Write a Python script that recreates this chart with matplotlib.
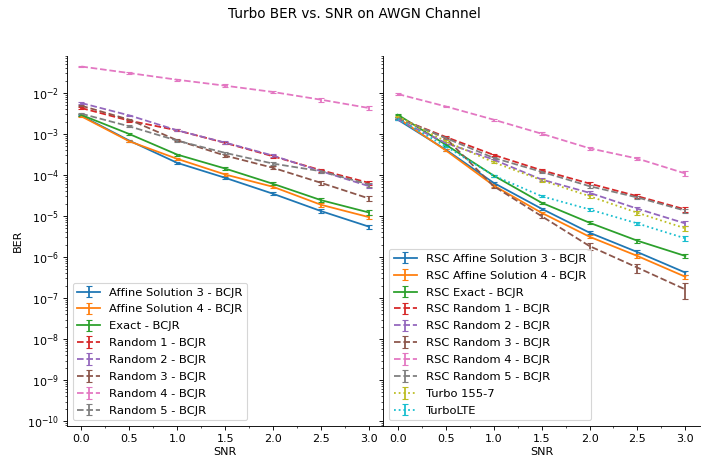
import numpy as np
import matplotlib
matplotlib.use("Agg")
import matplotlib.pyplot as plt
from matplotlib.ticker import AutoMinorLocator

# SNR points
snr = [0.0, 0.5, 1.0, 1.5, 2.0, 2.5, 3.0]

# Left panel: BCJR decoders
ber_affine3 = [2.8e-3, 6.9e-4, 1.98e-4, 8.55e-5, 3.49e-5, 1.32e-5, 5.5e-6]
ber_affine4 = [2.7e-3, 6.65e-4, 2.48e-4, 1.03e-4, 5.16e-5, 1.88e-5, 9.4e-6]
ber_exact = [2.92e-3, 1.0e-3, 3.15e-4, 1.44e-4, 6.1e-5, 2.44e-5, 1.22e-5]
ber_random1 = [4.3e-3, 2.12e-3, 1.23e-3, 6.07e-4, 2.86e-4, 1.31e-4, 6.45e-5]
ber_random2 = [5.7e-3, 2.85e-3, 1.23e-3, 6.18e-4, 2.98e-4, 1.24e-4, 5.35e-5]
ber_random3 = [4.9e-3, 2.24e-3, 7.03e-4, 2.98e-4, 1.5e-4, 6.45e-5, 2.68e-5]
ber_random4 = [4.43e-2, 3.07e-2, 2.11e-2, 1.51e-2, 1.06e-2, 6.87e-3, 4.31e-3]
ber_random5 = [3.13e-3, 1.54e-3, 6.9e-4, 3.47e-4, 1.9e-4, 1.24e-4, 5.87e-5]

# Right panel: RSC + turbo references
rsc_affine3 = [2.24e-3, 4.17e-4, 6.45e-5, 1.51e-5, 3.93e-6, 1.32e-6, 4.17e-7]
rsc_affine4 = [2.47e-3, 4.01e-4, 5.56e-5, 1.2e-5, 3.13e-6, 1.06e-6, 3.3e-7]
rsc_exact = [2.96e-3, 5.52e-4, 9.7e-5, 2.11e-5, 6.87e-6, 2.5e-6, 1.06e-6]
rsc_random1 = [2.47e-3, 8.5e-4, 3.1e-4, 1.31e-4, 6.2e-5, 3.05e-5, 1.45e-5]
rsc_random2 = [2.24e-3, 6.07e-4, 2.38e-4, 7.78e-5, 3.69e-5, 1.51e-5, 6.6e-6]
rsc_random3 = [2.47e-3, 8.0e-4, 5.35e-5, 9.95e-6, 1.85e-6, 5.52e-7, 1.62e-7]
rsc_random4 = [9.46e-3, 4.72e-3, 2.24e-3, 1.02e-3, 4.49e-4, 2.52e-4, 1.09e-4]
rsc_random5 = [2.47e-3, 8.0e-4, 2.62e-4, 1.2e-4, 5.35e-5, 2.84e-5, 1.35e-5]
turbo_155_7 = [2.7e-3, 6.65e-4, 2.05e-4, 7.48e-5, 3.05e-5, 1.2e-5, 5.0e-6]
turbo_lte = [2.33e-3, 5.03e-4, 9.7e-5, 3.05e-5, 1.45e-5, 6.6e-6, 2.85e-6]

# relative half-width of the error bars
rel_err = [0.04, 0.05, 0.06, 0.07, 0.08, 0.1, 0.12]
rel_err_rsc_random3 = [0.05, 0.06, 0.08, 0.12, 0.2, 0.25, 0.42]

left_series = [
    ("Affine Solution 3 - BCJR", ber_affine3, "-"),
    ("Affine Solution 4 - BCJR", ber_affine4, "-"),
    ("Exact - BCJR", ber_exact, "-"),
    ("Random 1 - BCJR", ber_random1, "--"),
    ("Random 2 - BCJR", ber_random2, "--"),
    ("Random 3 - BCJR", ber_random3, "--"),
    ("Random 4 - BCJR", ber_random4, "--"),
    ("Random 5 - BCJR", ber_random5, "--"),
]
right_series = [
    ("RSC Affine Solution 3 - BCJR", rsc_affine3, "-"),
    ("RSC Affine Solution 4 - BCJR", rsc_affine4, "-"),
    ("RSC Exact - BCJR", rsc_exact, "-"),
    ("RSC Random 1 - BCJR", rsc_random1, "--"),
    ("RSC Random 2 - BCJR", rsc_random2, "--"),
    ("RSC Random 3 - BCJR", rsc_random3, "--"),
    ("RSC Random 4 - BCJR", rsc_random4, "--"),
    ("RSC Random 5 - BCJR", rsc_random5, "--"),
    ("Turbo 155-7", turbo_155_7, ":"),
    ("TurboLTE", turbo_lte, ":"),
]

DPI = 80
fig, axes = plt.subplots(1, 2, figsize=(709 / DPI, 461 / DPI), dpi=DPI, sharey=True)
fig.subplots_adjust(left=0.0945, right=0.987, top=0.879, bottom=0.076, wspace=0.0)

for ax, series in zip(axes, [left_series, right_series]):
    for i, (label, ber, ls) in enumerate(series):
        ber = np.array(ber)
        rel = rel_err_rsc_random3 if label == "RSC Random 3 - BCJR" else rel_err
        err = ber * np.array(rel)
        ax.errorbar(snr, ber, yerr=err, label=label, color=f"C{i}",
                    linestyle=ls, linewidth=1.6, capsize=2.5)
    ax.set_yscale("log")
    ax.set_xlabel("SNR", labelpad=3)
    ax.set_xticks(snr)
    ax.xaxis.set_minor_locator(AutoMinorLocator(2))
    ax.spines["top"].set_visible(False)
    ax.spines["right"].set_visible(False)
    ax.legend(loc="lower left", fontsize=10.3, labelspacing=0.6)

axes[0].set_ylabel("BER")
axes[0].set_ylim(7.6e-11, 8.1e-2)

fig.suptitle("Turbo BER vs. SNR on AWGN Channel", y=0.985, fontsize=12.2)
fig.savefig("out.png", dpi=DPI)
